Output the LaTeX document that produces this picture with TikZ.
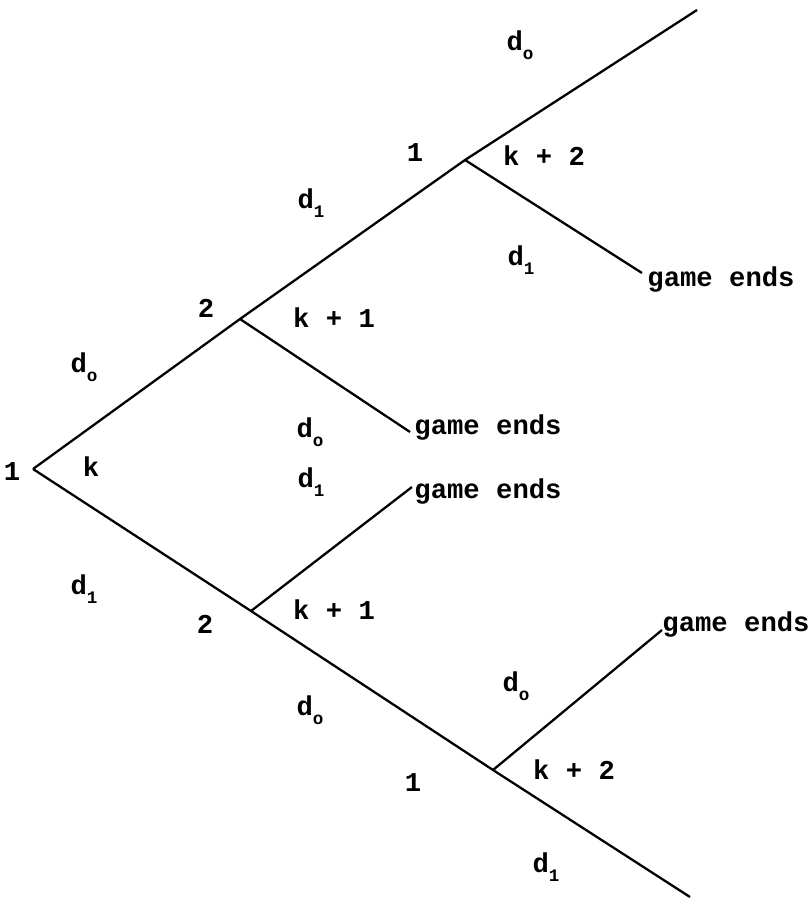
\documentclass[tikz,border=0pt]{standalone}
\usepackage{fontspec}
\setmonofont{Liberation Mono}
\usepackage{tikz}

\newcommand{\dsub}[1]{d\raisebox{-0.6ex}{\fontsize{10}{10}\selectfont #1}}

\begin{document}
\begin{tikzpicture}[x=0.02cm,y=-0.02cm]
\useasboundingbox (0,0) rectangle (809,905);
% decision points and ends of the branches
\coordinate (r) at (33,469);
\coordinate (u2) at (240,319);
\coordinate (u1) at (465,160);
\coordinate (top) at (697,10);
\coordinate (u1e) at (642,273);
\coordinate (u2e) at (410,432);
\coordinate (l2) at (251,611);
\coordinate (l2e) at (412,487);
\coordinate (l1) at (493,770);
\coordinate (l1e) at (662,630);
\coordinate (bot) at (690,897);
\begin{scope}[every path/.style={draw,line width=1.3pt,line join=round}]
    \path (r) -- (u2) -- (u1) -- (top);
    \path (u1) -- (u1e);
    \path (u2) -- (u2e);
    \path (r) -- (l2) -- (l1) -- (bot);
    \path (l2) -- (l2e);
    \path (l1) -- (l1e);
\end{scope}
\begin{scope}[every node/.style={font=\ttfamily\bfseries\fontsize{15.5}{15.5}\selectfont,inner sep=0pt}]
    \node (pr) at (12,472) {1};
    \node (k0) at (91,467) {k};
    \node (d0r) at (84,367) {\dsub{o}};
    \node (d1r) at (84,589) {\dsub{1}};
    \node (pu2) at (206,308) {2};
    \node (ku2) at (334,318) {k + 1};
    \node (d1u) at (311,203) {\dsub{1}};
    \node (d0u2) at (310,432) {\dsub{o}};
    \node (geu2) at (488,428) {game ends};
    \node (pu1) at (415,153) {1};
    \node (ku1) at (544,156) {k + 2};
    \node (d0t) at (520,45) {\dsub{o}};
    \node (d1u1) at (521,260) {\dsub{1}};
    \node (geu1) at (721,280) {game ends};
    \node (pl2) at (205,624) {2};
    \node (kl2) at (334,610) {k + 1};
    \node (d1l2) at (311,482) {\dsub{1}};
    \node (gel2) at (488,492) {game ends};
    \node (d0l) at (310,710) {\dsub{o}};
    \node (pl1) at (413,783) {1};
    \node (kl1) at (574,770) {k + 2};
    \node (d0l1) at (516,686) {\dsub{o}};
    \node (gel1) at (736,625) {game ends};
    \node (d1b) at (546,867) {\dsub{1}};
\end{scope}
\end{tikzpicture}
\end{document}
